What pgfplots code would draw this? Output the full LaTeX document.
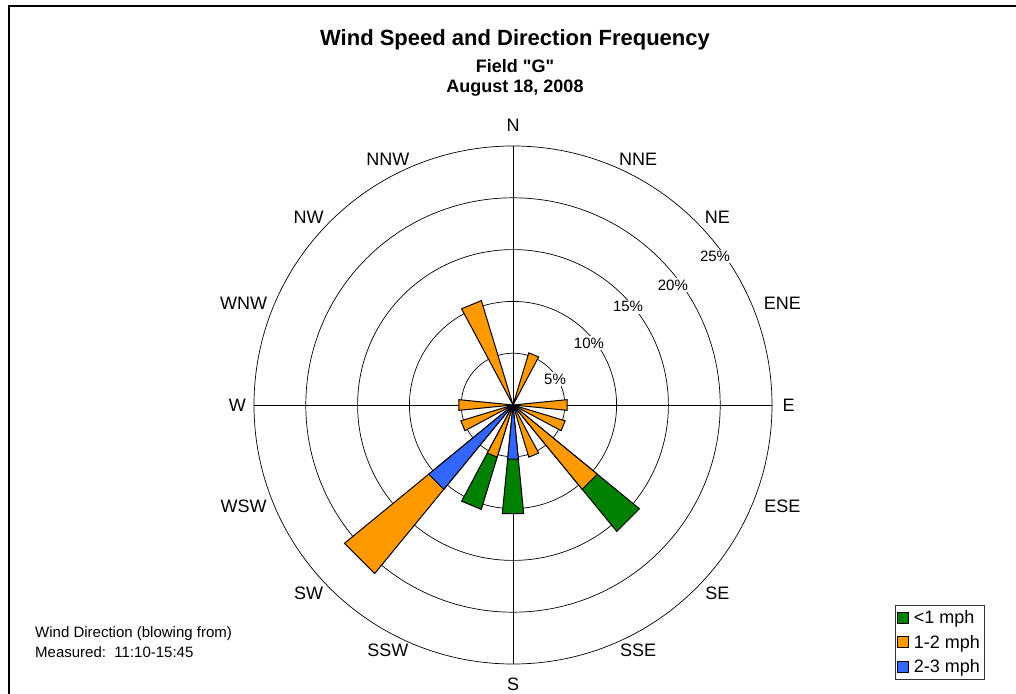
\documentclass[border=0pt]{standalone}
\usepackage{pgfplots}
\pgfplotsset{compat=1.18}
\usepgfplotslibrary{polar}
\usepackage{fontspec}
\setmainfont{Liberation Sans}[Ligatures=TeXOff]
\definecolor{gbar}{RGB}{0,128,0}
\definecolor{obar}{RGB}{255,153,0}
\definecolor{bbar}{RGB}{51,102,255}
\begin{document}
\begin{tikzpicture}
\useasboundingbox (0pt,0pt) rectangle (1016pt,693pt);
\draw[line width=2pt] (9pt,-2pt) -- (9pt,687pt) -- (1018pt,687pt);
\node[font=\bfseries\fontsize{22}{26}\selectfont] at (515pt,653pt) {Wind Speed and Direction Frequency};
\node[font=\bfseries\fontsize{18}{22}\selectfont] at (515pt,627pt) {Field "G"};
\node[font=\bfseries\fontsize{18}{22}\selectfont] at (515pt,605pt) {August 18, 2008};
\node[anchor=west, font=\fontsize{15}{18}\selectfont] at (31.7pt,59.7pt) {Wind Direction (blowing from)};
\node[anchor=west, font=\fontsize{15}{18}\selectfont] at (31.7pt,40.7pt) {Measured:\ \ 11:10-15:45};
\begin{polaraxis}[
  at={(513pt,288pt)}, anchor=origin,
  scale only axis, width=518pt, height=518pt,
  ymin=0, ymax=25,
  xtick={0,90,180,270}, ytick={5,10,15,20},
  xticklabels={}, yticklabels={},
  major tick length=0pt,
  xmajorgrids, ymajorgrids,
  major grid style={black, line width=0.7pt},
  axis line style={black, line width=0.7pt},
  clip=false,
  legend image code/.code={\draw[#1,draw=black,line width=0.8pt] (0pt,-5.5pt) rectangle (11pt,5.5pt);},
  legend cell align=left,
  legend style={at={(1.41,-0.03)}, anchor=south east, draw=black!80, line width=0.8pt,
    font=\fontsize{18}{20}\selectfont, inner xsep=2pt, inner ysep=3pt, row sep=6pt,
    /tikz/every odd column/.append style={column sep=3pt}},
  every axis plot/.append style={draw=black, line width=1pt, line join=miter},
]
% <1 mph (drawn with cumulative totals)
\addplot[fill=gbar,forget plot] coordinates {(-50.625,0) (-50.625,15.79) (-39.375,15.79) (-39.375,0)} -- cycle;
\addplot[fill=gbar,forget plot] coordinates {(-95.625,0) (-95.625,10.53) (-84.375,10.53) (-84.375,0)} -- cycle;
\addplot[fill=gbar,forget plot] coordinates {(-118.125,0) (-118.125,10.53) (-106.875,10.53) (-106.875,0)} -- cycle;
% 1-2 mph
\addplot[fill=obar,forget plot] coordinates {(61.875,0) (61.875,5.26) (73.125,5.26) (73.125,0)} -- cycle;
\addplot[fill=obar,forget plot] coordinates {(106.875,0) (106.875,10.53) (118.125,10.53) (118.125,0)} -- cycle;
\addplot[fill=obar,forget plot] coordinates {(-5.625,0) (-5.625,5.26) (5.625,5.26) (5.625,0)} -- cycle;
\addplot[fill=obar,forget plot] coordinates {(-28.125,0) (-28.125,5.26) (-16.875,5.26) (-16.875,0)} -- cycle;
\addplot[fill=obar,forget plot] coordinates {(-50.625,0) (-50.625,10.53) (-39.375,10.53) (-39.375,0)} -- cycle;
\addplot[fill=obar,forget plot] coordinates {(-73.125,0) (-73.125,5.26) (-61.875,5.26) (-61.875,0)} -- cycle;
\addplot[fill=obar,forget plot] coordinates {(-118.125,0) (-118.125,5.26) (-106.875,5.26) (-106.875,0)} -- cycle;
\addplot[fill=obar,forget plot] coordinates {(-140.625,0) (-140.625,21.05) (-129.375,21.05) (-129.375,0)} -- cycle;
\addplot[fill=obar,forget plot] coordinates {(-163.125,0) (-163.125,5.26) (-151.875,5.26) (-151.875,0)} -- cycle;
\addplot[fill=obar,forget plot] coordinates {(174.375,0) (174.375,5.26) (185.625,5.26) (185.625,0)} -- cycle;
% 2-3 mph
\addplot[fill=bbar,forget plot] coordinates {(-95.625,0) (-95.625,5.26) (-84.375,5.26) (-84.375,0)} -- cycle;
\addplot[fill=bbar,forget plot] coordinates {(-140.625,0) (-140.625,10.53) (-129.375,10.53) (-129.375,0)} -- cycle;
% legend
\addlegendimage{fill=gbar}\addlegendentry{<1 mph}
\addlegendimage{fill=obar}\addlegendentry{1-2 mph}
\addlegendimage{fill=bbar}\addlegendentry{2-3 mph}
% direction labels
\begin{scope}[every node/.style={font=\fontsize{18}{21}\selectfont}]
\node at (axis cs:90,27.0) {N};
\node at (axis cs:63,26.6) {NNE};
\node at (axis cs:42.6,26.8) {NE};
\node at (axis cs:20.7,27.8) {ENE};
\node at (axis cs:0,26.6) {E};
\node at (axis cs:-20.7,27.8) {ESE};
\node at (axis cs:-42.6,26.8) {SE};
\node at (axis cs:-63,26.6) {SSE};
\node at (axis cs:-90,27.0) {S};
\node at (axis cs:-117,26.6) {SSW};
\node at (axis cs:-137.4,26.8) {SW};
\node at (axis cs:-159.3,27.8) {WSW};
\node at (axis cs:180,26.6) {W};
\node at (axis cs:159.3,27.8) {WNW};
\node at (axis cs:137.4,26.8) {NW};
\node at (axis cs:117,26.6) {NNW};
\end{scope}
% ring labels
\begin{scope}[every node/.style={font=\fontsize{15}{18}\selectfont, fill=white, inner sep=1.5pt}]
\node at (axis cs:31.8,4.77) {5\%};
\node at (axis cs:39.2,9.46) {10\%};
\node at (axis cs:40.5,14.6) {15\%};
\node at (axis cs:36.9,19.3) {20\%};
\node at (axis cs:36.3,24.2) {25\%};
\end{scope}
\end{polaraxis}
\end{tikzpicture}
\end{document}
